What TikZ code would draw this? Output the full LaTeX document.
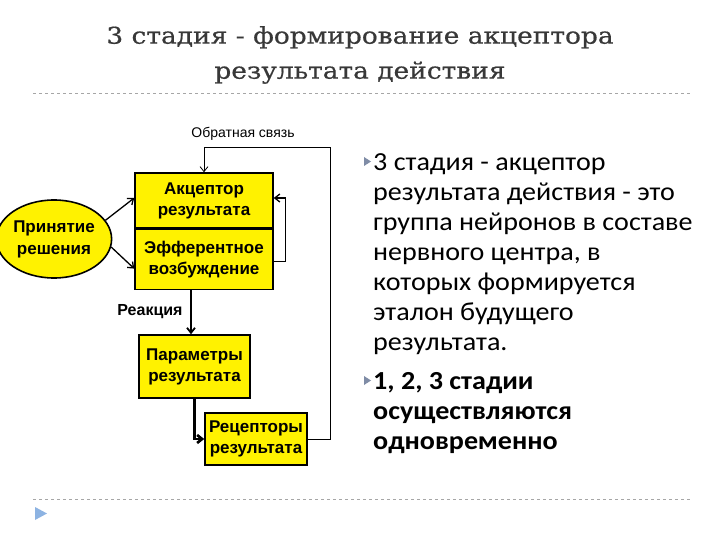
\documentclass[tikz,border=0pt]{standalone}
\usepackage{fontspec}
\setmainfont[FakeStretch=1.08]{Carlito}
\newfontfamily\titlefont[FakeStretch=1.15,FakeBold=0.6]{DejaVu Serif}
\newfontfamily\schemefont{Liberation Sans}
\usetikzlibrary{arrows.meta,shapes.geometric}
\definecolor{titlegray}{HTML}{383838}
\definecolor{bulletgray}{HTML}{7F8CA6}
\definecolor{navblue}{HTML}{8DB3E2}

\begin{document}
\begin{tikzpicture}[x=1pt, y=-1pt,
   box/.style={draw, line width=1.6pt, fill=yellow, align=center, inner sep=0pt,
               font=\schemefont\bfseries\fontsize{17}{21}\selectfont},
   link/.style={line width=1.3pt, -{Straight Barb[length=5pt,width=8pt]}},
   lbl/.style={inner sep=0pt, font=\schemefont\fontsize{14}{16}\selectfont},
   rule/.style={draw=gray!70, dashed, line width=0.6pt},
   bulletmark/.style={fill=bulletgray},
   itemtext/.style={anchor=north west, inner sep=0pt, align=left,
                    font=\fontsize{26}{30}\selectfont}]

\useasboundingbox (0,0) rectangle (720,540);

\node[align=center, text=titlegray, anchor=north, inner sep=0pt,
      font=\titlefont\fontsize{23}{35}\selectfont] (title) at (360,26)
    {3 стадия - формирование акцептора\\результата действия};
\draw[rule] (33,93) -- (690,93);
\draw[rule] (33,499) -- (690,499);
\fill[navblue] (35,507) -- (47,513.5) -- (35,520) -- cycle;

\node[box, minimum width=138, minimum height=55] (acc) at (204,200.5) {Акцептор\\результата};
\node[box, minimum width=138, minimum height=60, anchor=north] (eff) at (acc.south) {Эфферентное\\возбуждение};
\node[box, ellipse, minimum width=98, minimum height=78,
      font=\schemefont\bfseries\fontsize{17}{22}\selectfont] (dec) at (54,239) {Принятие\\решения};
\node[box, minimum width=111, minimum height=63] (par) at (194.5,366.5) {Параметры\\результата};
\node[box, minimum width=102, minimum height=52] (rec) at (256,439) {Рецепторы\\результата};

\node[lbl] (fblabel) at (243,134) {Обратная связь};
\node[lbl, font=\schemefont\bfseries\fontsize{16}{18}\selectfont] (react) at (150,312) {Реакция};
\coordinate (fbturn) at (330,147);

\draw[link] (dec.20) -- ([yshift=2.5]acc.west);
\draw[link] (dec.-8) -- ([yshift=-9]eff.west);
\draw[link] ([yshift=-2]eff.east) -- ++(12,0) |- ([yshift=2.5]acc.east);
\draw[link, line width=0.8pt] (rec.east) -| (fbturn) -| (acc.north);
\draw[link, line width=1.8pt] ([xshift=-13]eff.south) coordinate (r0) -- (r0 |- par.north);
\draw[link, line width=2.6pt] (par.south) |- (rec.west);

\fill[bulletmark] (364,157) -- (371,161.5) -- (364,166) -- cycle;
\node[itemtext] (item1) at (373,153)
    {3 стадия - акцептор\\результата действия - это\\группа нейронов в составе\\нервного центра, в\\которых формируется\\эталон будущего\\результата.};
\fill[bulletmark] (364,376) -- (371,380.5) -- (364,385) -- cycle;
\node[itemtext, font=\bfseries\fontsize{26}{30}\selectfont] (item2) at (373,372)
    {1, 2, 3 стадии\\осуществляются\\одновременно};

\end{tikzpicture}
\end{document}
